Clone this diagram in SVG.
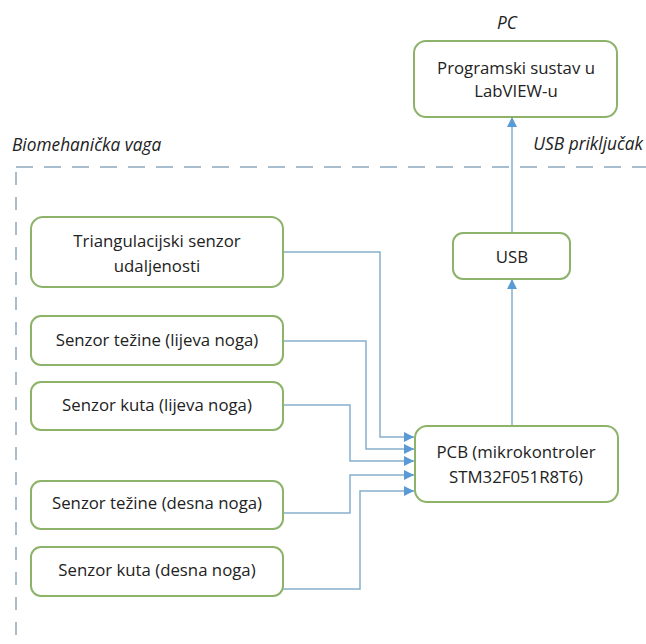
<svg xmlns="http://www.w3.org/2000/svg" width="646" height="644" viewBox="0 0 646 644">
<defs>
<style>
.box{fill:#fff;stroke:#8DB36A;stroke-width:2}
.t{font-family:"Open Sans","Noto Sans",sans-serif;font-size:16.8px;fill:#222;text-anchor:middle;dominant-baseline:central}
.it{font-family:"Open Sans","Noto Sans",sans-serif;font-size:17.3px;font-style:italic;fill:#222;dominant-baseline:central}
.c{fill:none;stroke:#86AECB;stroke-width:1.5}
.d{fill:none;stroke:#8AA6BC;stroke-width:1.5;stroke-dasharray:17 11}
</style>
<marker id="ah" viewBox="0 0 10 10" refX="10" refY="5" markerWidth="10" markerHeight="10" markerUnits="userSpaceOnUse" orient="auto">
<path d="M0,0 L10,5 L0,10 z" fill="#5B9BD5"/>
</marker>
</defs>
<rect width="646" height="644" fill="#fff"/>
<g id="frame">
<line class="d" x1="16" y1="167" x2="646" y2="167"/>
<line class="d" x1="16" y1="172" x2="16" y2="644" style="stroke-dasharray:13 12"/>
<text class="it" x="12" y="144">Biomehanička vaga</text>
<text class="it" x="643" y="143" text-anchor="end">USB priključak</text>
<text class="it" x="507" y="22" text-anchor="middle">PC</text>
</g>
<g id="connectors">
<path class="c" d="M283,252 H380 V437 H414" marker-end="url(#ah)"/>
<path class="c" d="M283,341 H366 V449 H414" marker-end="url(#ah)"/>
<path class="c" d="M283,405 H350 V461 H414" marker-end="url(#ah)"/>
<path class="c" d="M283,513 H350 V475 H414" marker-end="url(#ah)"/>
<path class="c" d="M283,589 H360 V491 H414" marker-end="url(#ah)"/>
<path class="c" d="M512,426 V279" marker-end="url(#ah)"/>
<path class="c" d="M512,233 V117" marker-end="url(#ah)"/>
</g>
<g id="pc">
<rect class="box" x="414" y="41" width="203" height="76" rx="12"/>
<text class="t" x="516" y="67">Programski sustav u</text>
<text class="t" x="516" y="90">LabVIEW-u</text>
</g>
<g id="usb">
<rect class="box" x="453" y="233" width="117" height="46" rx="10"/>
<text class="t" x="512" y="256">USB</text>
</g>
<g id="pcb">
<rect class="box" x="415" y="426" width="203" height="76" rx="12"/>
<text class="t" x="516" y="451">PCB (mikrokontroler</text>
<text class="t" x="516" y="476">STM32F051R8T6)</text>
</g>
<g id="triang">
<rect class="box" x="31" y="217" width="252" height="70" rx="12"/>
<text class="t" x="157" y="240">Triangulacijski senzor</text>
<text class="t" x="157" y="265">udaljenosti</text>
</g>
<g id="tezL">
<rect class="box" x="31" y="316" width="252" height="49" rx="10"/>
<text class="t" x="157" y="339">Senzor težine (lijeva noga)</text>
</g>
<g id="kutL">
<rect class="box" x="31" y="382" width="252" height="48" rx="10"/>
<text class="t" x="157" y="404">Senzor kuta (lijeva noga)</text>
</g>
<g id="tezD">
<rect class="box" x="31" y="481" width="252" height="48" rx="10"/>
<text class="t" x="157" y="502">Senzor težine (desna noga)</text>
</g>
<g id="kutD">
<rect class="box" x="31" y="547" width="252" height="49" rx="10"/>
<text class="t" x="157" y="569">Senzor kuta (desna noga)</text>
</g>
</svg>
